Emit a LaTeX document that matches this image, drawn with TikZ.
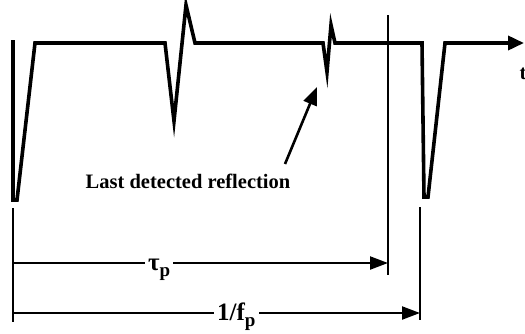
\documentclass[tikz,border=0pt]{standalone}
\usepackage{fontspec}
\setmainfont{Liberation Serif}
\usetikzlibrary{arrows.meta}
\begin{document}
\begin{tikzpicture}[x=1pt,y=-1pt,
  wave/.style={line width=3.6pt,line join=miter,miter limit=20},
  dim/.style={line width=2.2pt},
  lbl/.style={font=\fontsize{20.5}{22}\selectfont\bfseries,inner sep=0pt},
  dimlbl/.style={font=\fontsize{25}{26}\selectfont\bfseries,fill=white,inner xsep=3pt,inner ysep=0pt}]
\useasboundingbox (0,0) rectangle (525,333);
% waveform coordinates
\coordinate (w0) at (13,40);
\coordinate (w1) at (13,200);
\coordinate (w2) at (17,200);
\coordinate (w3) at (35,43);
\coordinate (w4) at (165,43);
\coordinate (w5) at (174,121);
\coordinate (w6) at (186,5);
\coordinate (w7) at (195,43);
\coordinate (w8) at (323,43);
\coordinate (w9) at (327,72);
\coordinate (w10) at (331,25);
\coordinate (w11) at (335,43);
\coordinate (w12) at (422,43);
\coordinate (w13) at (424,197);
\coordinate (w14) at (428,197);
\coordinate (w15) at (445,43);
\coordinate (w16) at (524,43);
\draw[wave,-{Triangle[length=16pt,width=14pt]}]
  (w0) -- (w1) -- (w2) -- (w3) -- (w4) -- (w5) -- (w6) -- (w7) -- (w8) -- (w9) -- (w10) -- (w11) -- (w12) -- (w13) -- (w14) -- (w15) -- (w16);
\node[lbl,anchor=center] (t) at (523,74) {t};
% marker line
\coordinate (m0) at (388,15);
\coordinate (m1) at (388,275);
\draw[dim] (m0) -- (m1);
% reflection label and arrow
\node[lbl,anchor=base] (refl) at (188,188) {Last detected reflection};
\coordinate (a0) at (285,164);
\coordinate (a1) at (317,87);
\draw[line width=2.6pt,-{Triangle[length=18pt,width=14pt]}] (a0) -- (a1);
% dimension lines
\coordinate (l0) at (13,208);
\coordinate (l1) at (13,322);
\draw[dim] (l0) -- (l1);
\coordinate (r1) at (420,207);
\coordinate (r2) at (420,320);
\draw[dim] (r1) -- (r2);
\coordinate (tauS) at (13,263);
\coordinate (tauE) at (388,263);
\draw[dim,-{Triangle[length=18pt,width=13pt]}] (tauS) -- (tauE);
\coordinate (fS) at (13,313);
\coordinate (fE) at (420,313);
\draw[dim,-{Triangle[length=18pt,width=13pt]}] (fS) -- (fE);
\node[dimlbl,anchor=base west] (tau) at (145,270) {τ\raisebox{-6pt}{\fontsize{19}{20}\selectfont p}};
\node[dimlbl,anchor=base west] (fp) at (214,320) {1/f\raisebox{-6pt}{\fontsize{19}{20}\selectfont p}};
\end{tikzpicture}
\end{document}
